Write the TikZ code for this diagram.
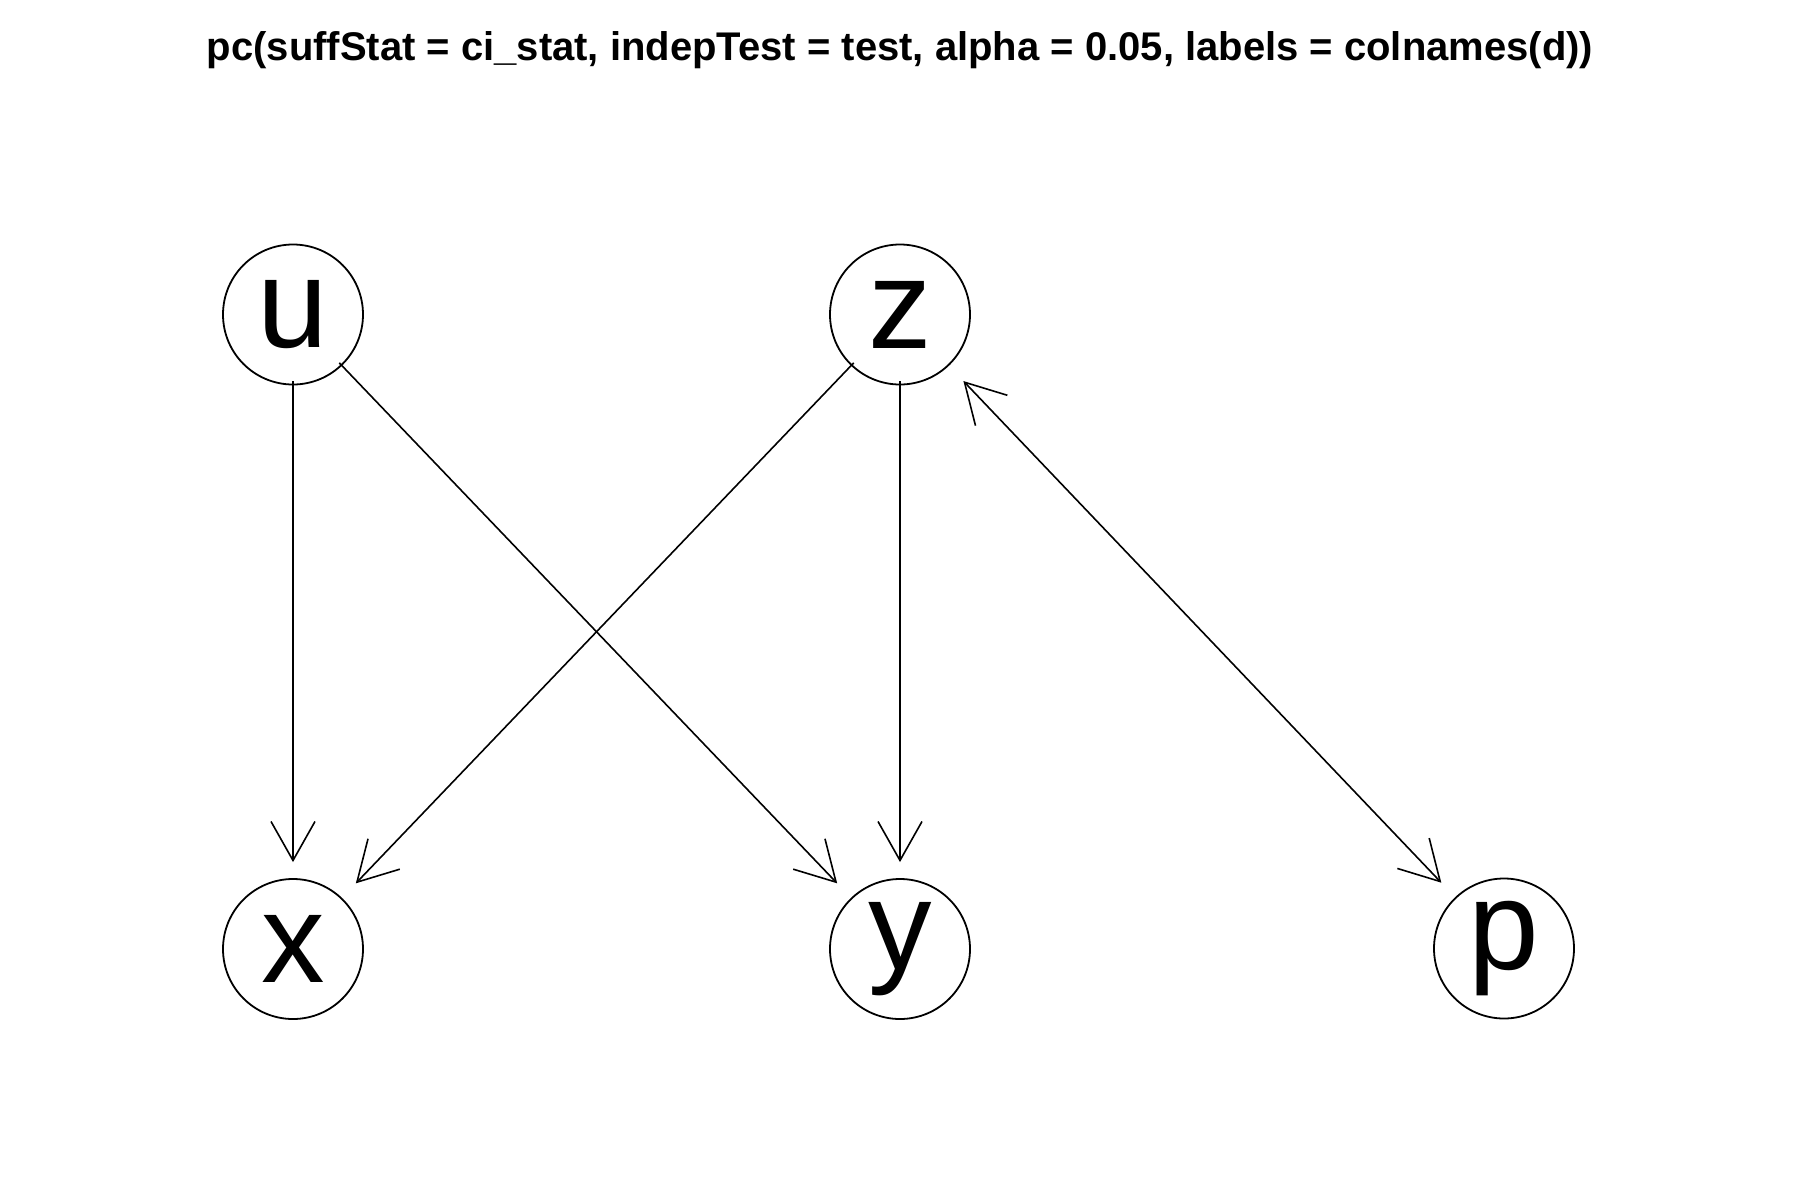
\documentclass[tikz,border=0pt]{standalone}
\usepackage{fontspec}
\setmainfont{Liberation Sans}
\usetikzlibrary{arrows.meta}
\tikzset{
  vtx/.style={circle,draw,line width=1.8pt,minimum size=140pt,inner sep=0pt,font=\fontsize{127}{130}\selectfont},
  edg/.style={line width=1.6pt,-{Straight Barb[length=39pt,width=44pt,line width=1.6pt]},shorten <=-4pt},
  bedg/.style={line width=1.6pt,{Straight Barb[length=39pt,width=44pt,line width=1.6pt]}-{Straight Barb[length=39pt,width=44pt,line width=1.6pt]}}
}
\begin{document}
\begin{tikzpicture}[x=1pt,y=-1pt]
\useasboundingbox[fill=white] (0,0) rectangle (1800,1200);
\node[font=\fontsize{40}{46}\selectfont\bfseries] (title) at (900,50) {pc(suffStat = ci\_stat, indepTest = test, alpha = 0.05, labels = colnames(d))};
\node[vtx] (u) at (293,314.5) {u};
\node[vtx] (z) at (900,314.5) {z};
\node[vtx] (x) at (293,949) {x};
\node[vtx] (y) at (900,949) {y};
\node[vtx] (p) at (1504,948.5) {p};
\draw[edg,shorten >=16pt] (u) -- (x);
\draw[edg,shorten >=20pt] (u) -- (y);
\draw[edg,shorten >=20pt] (z) -- (x);
\draw[edg,shorten >=16pt] (z) -- (y);
\draw[bedg,shorten <=21pt,shorten >=20pt] (z) -- (p);
\end{tikzpicture}
\end{document}
